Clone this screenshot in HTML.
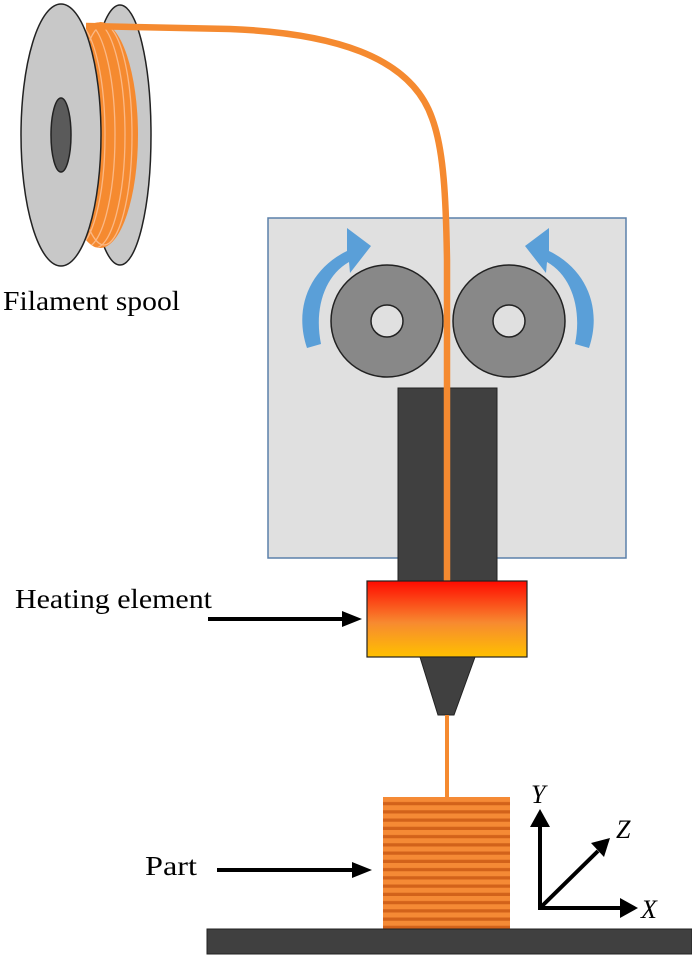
<!DOCTYPE html>
<html><head><meta charset="utf-8"><style>html,body{margin:0;padding:0;background:#fff;}svg{display:block}</style></head>
<body>
<svg width="692" height="961" viewBox="0 0 692 961" xmlns="http://www.w3.org/2000/svg">
<defs>
<linearGradient id="heat" x1="0" y1="0" x2="0" y2="1">
<stop offset="0" stop-color="#ff0a00"/><stop offset="0.55" stop-color="#f78a30"/><stop offset="1" stop-color="#ffc000"/>
</linearGradient>
<pattern id="stripes" x="0" y="797" width="10" height="8.25" patternUnits="userSpaceOnUse">
<rect width="10" height="8.25" fill="#f58a35"/><rect y="5" width="10" height="3.25" fill="#d2621a"/>
</pattern>
<clipPath id="orc"><ellipse cx="100" cy="135" rx="38" ry="113"/></clipPath>
</defs>
<!-- spool -->
<ellipse cx="120" cy="135" rx="31" ry="130" fill="#c8c8c8" stroke="#222" stroke-width="1.5"/>
<ellipse cx="100" cy="135" rx="38" ry="113" fill="#f58a30"/>
<g clip-path="url(#orc)" fill="none" stroke="#fbb885" stroke-width="1.3">
<ellipse cx="75" cy="135" rx="30" ry="113"/><ellipse cx="85" cy="135" rx="30" ry="113"/><ellipse cx="95" cy="135" rx="30" ry="113"/><ellipse cx="104" cy="135" rx="28" ry="110"/>
</g>
<ellipse cx="61" cy="135" rx="40" ry="131" fill="#c8c8c8" stroke="#222" stroke-width="1.5"/>
<ellipse cx="61" cy="135" rx="10" ry="37" fill="#5a5a5a" stroke="#222" stroke-width="1.5"/>
<text x="3" y="310" font-family="Liberation Serif, serif" font-size="27" textLength="177" lengthAdjust="spacingAndGlyphs">Filament spool</text>
<!-- gray box -->
<rect x="268" y="218" width="358" height="340" fill="#e0e0e0" stroke="#5b80aa" stroke-width="1.5"/>
<!-- arrows -->
<path d="M307 348 C294 310 308 270 347 251 L347 228 L371 246 L350 273 L349 262 C324 276 314 310 321 344 Z" fill="#5a9fd8"/>
<path d="M589 348 C602 310 588 270 549 251 L549 228 L525 246 L546 273 L547 262 C572 276 582 310 575 344 Z" fill="#5a9fd8"/>
<!-- rollers -->
<circle cx="387" cy="321" r="56" fill="#888" stroke="#222" stroke-width="1.5"/>
<circle cx="387" cy="321" r="16" fill="#e0e0e0" stroke="#222" stroke-width="1.5"/>
<circle cx="509" cy="321" r="56" fill="#888" stroke="#222" stroke-width="1.5"/>
<circle cx="509" cy="321" r="16" fill="#e0e0e0" stroke="#222" stroke-width="1.5"/>
<!-- column -->
<rect x="398" y="388" width="99" height="194" fill="#404040" stroke="#222" stroke-width="1"/>
<!-- filament -->
<path d="M86 26 L230 29 C330 33 410 55 432 118 C444 150 446 200 447 260 L447 585" fill="none" stroke="#f58a30" stroke-width="6.5"/>
<!-- heater -->
<rect x="367" y="581" width="160" height="76" fill="url(#heat)" stroke="#222" stroke-width="1.2"/>
<polygon points="420,657 475,657 454,715 438,715" fill="#404040" stroke="#222" stroke-width="1"/>
<line x1="447" y1="715" x2="447" y2="798" stroke="#f58a30" stroke-width="4"/>
<!-- part -->
<rect x="383" y="797" width="127" height="132" fill="url(#stripes)"/>
<rect x="207" y="929" width="485" height="25" fill="#404040" stroke="#222" stroke-width="1"/>
<!-- label arrows -->
<line x1="208" y1="619" x2="345" y2="619" stroke="#000" stroke-width="4"/>
<polygon points="342,611 362,619 342,627" fill="#000"/>
<line x1="217" y1="870" x2="355" y2="870" stroke="#000" stroke-width="4"/>
<polygon points="352,862 372,870 352,878" fill="#000"/>
<text x="15" y="608" font-family="Liberation Serif, serif" font-size="27" textLength="197" lengthAdjust="spacingAndGlyphs">Heating element</text>
<text x="145" y="875" font-family="Liberation Serif, serif" font-size="27" textLength="52" lengthAdjust="spacingAndGlyphs">Part</text>
<!-- axes -->
<g stroke="#000" stroke-width="4" fill="none">
<polyline points="540,825 540,908 622,908"/>
<line x1="540" y1="908" x2="598" y2="851"/>
</g>
<polygon points="530,827 540,809 550,827" fill="#000"/>
<polygon points="620,898 638,908 620,918" fill="#000"/>
<polygon points="591,843 610,838 604,857" fill="#000"/>
<g font-family="Liberation Serif, serif" font-style="italic" font-size="26">
<text x="531" y="803">Y</text><text x="616" y="838">Z</text><text x="641" y="918">X</text>
</g>
</svg>
</body></html>
